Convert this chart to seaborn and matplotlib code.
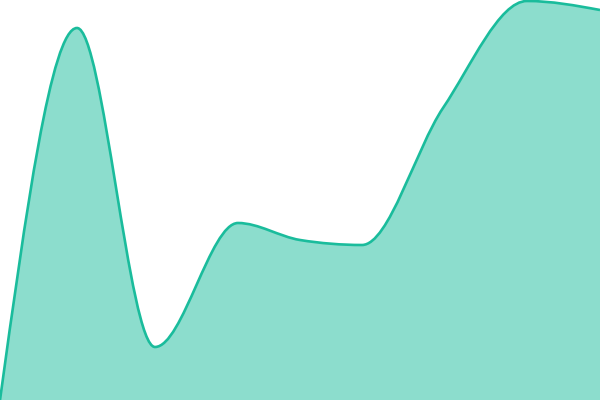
import numpy as np
import matplotlib
matplotlib.use("Agg")
import matplotlib.pyplot as plt
import seaborn as sns
from matplotlib.path import Path
from matplotlib.patches import PathPatch

# node positions and values (no axes shown)
x_vals = [0, 77, 155, 238, 300, 362, 443, 527, 600]
y_vals = [0, 372, 53, 177, 160, 155, 292, 399, 390]

LINE_COLOR = "#1abc9c"


def monotone_tangents(x, y):
    # same tangents as d3.curveMonotoneX
    x = np.asarray(x, float)
    y = np.asarray(y, float)
    h = np.diff(x)
    s = np.diff(y) / h
    t = np.zeros_like(y)
    for i in range(1, len(x) - 1):
        p = (s[i - 1] * h[i] + s[i] * h[i - 1]) / (h[i - 1] + h[i])
        t[i] = (np.sign(s[i - 1]) + np.sign(s[i])) * min(
            abs(s[i - 1]), abs(s[i]), 0.5 * abs(p))
    t[0] = (3 * s[0] - t[1]) / 2
    t[-1] = (3 * s[-1] - t[-2]) / 2
    return t


def curve_path(x, y, baseline=None):
    t = monotone_tangents(x, y)
    verts = [(x[0], y[0])]
    codes = [Path.MOVETO]
    for i in range(len(x) - 1):
        dx = (x[i + 1] - x[i]) / 3
        verts += [(x[i] + dx, y[i] + dx * t[i]),
                  (x[i + 1] - dx, y[i + 1] - dx * t[i + 1]),
                  (x[i + 1], y[i + 1])]
        codes += [Path.CURVE4] * 3
    if baseline is not None:
        verts += [(x[-1], baseline), (x[0], baseline), (x[0], y[0])]
        codes += [Path.LINETO, Path.LINETO, Path.CLOSEPOLY]
    return Path(verts, codes)


sns.set_theme(style="white")

fig = plt.figure(figsize=(6, 4), dpi=100)
ax = fig.add_axes([0, 0, 1, 1])

ax.add_patch(PathPatch(curve_path(x_vals, y_vals, baseline=0),
                       facecolor=LINE_COLOR, alpha=0.5, edgecolor="none"))
ax.add_patch(PathPatch(curve_path(x_vals, y_vals), facecolor="none",
                       edgecolor=LINE_COLOR, linewidth=1.9))

ax.set_xlim(0, 600)
ax.set_ylim(0, 400)
ax.axis("off")

fig.savefig("out.png", dpi=100)
